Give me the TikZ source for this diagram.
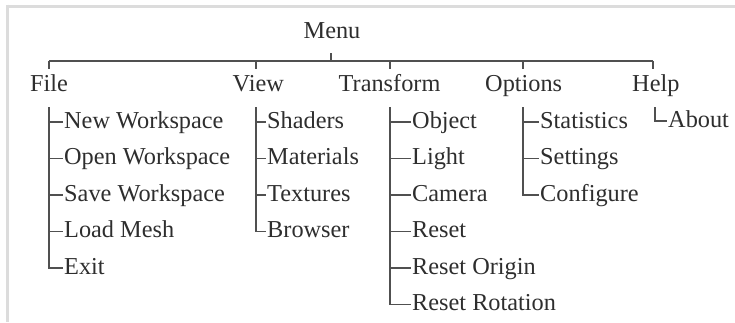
\documentclass[tikz,border=0pt]{standalone}
\usepackage{fontspec}
\setmainfont{Liberation Serif}
\definecolor{txt}{HTML}{2E2E2E}
\definecolor{ln}{HTML}{505050}
\definecolor{frame}{HTML}{DCDCDC}
\tikzset{
  lbl/.style={anchor=base west, inner sep=0pt, text=txt, font=\fontsize{24.3}{26}\selectfont},
  tree/.style={draw=ln, line width=1.8pt},
  frameline/.style={draw=frame, line width=3pt}
}
\begin{document}
\begin{tikzpicture}[x=1pt,y=-1pt]
\useasboundingbox (0,0) rectangle (735,322);
% frame
\draw[frameline] (6,6) -- (735,6);
\draw[frameline] (7.5,4.5) -- (7.5,322);
% top level
\node[lbl] (menu) at (303.5,38) {Menu};
\node[lbl] (file) at (30,91) {File};
\node[lbl] (view) at (232.5,91) {View};
\node[lbl] (transform) at (338.5,91) {Transform};
\node[lbl] (options) at (485,91) {Options};
\node[lbl] (help) at (632,91) {Help};
% children
\node[lbl] (f1) at (64,128) {New Workspace};
\node[lbl] (f2) at (64,164.5) {Open Workspace};
\node[lbl] (f3) at (64,201) {Save Workspace};
\node[lbl] (f4) at (64,237.5) {Load Mesh};
\node[lbl] (f5) at (64,274) {Exit};
\node[lbl] (v1) at (267,128) {Shaders};
\node[lbl] (v2) at (267,164.5) {Materials};
\node[lbl] (v3) at (267,201) {Textures};
\node[lbl] (v4) at (267,237.5) {Browser};
\node[lbl] (t1) at (412,128) {Object};
\node[lbl] (t2) at (412,164.5) {Light};
\node[lbl] (t3) at (412,201) {Camera};
\node[lbl] (t4) at (412,237.5) {Reset};
\node[lbl] (t5) at (412,274) {Reset Origin};
\node[lbl] (t6) at (412,310.5) {Reset Rotation};
\node[lbl] (o1) at (540,128) {Statistics};
\node[lbl] (o2) at (540,164.5) {Settings};
\node[lbl] (o3) at (540,201) {Configure};
\node[lbl] (h1) at (668,127) {About};
% junction coordinates
\coordinate (mt) at (331,53);
\coordinate (mb) at (331,61);
\coordinate (bfile) at (49,61);
\coordinate (bview) at (256,61);
\coordinate (btrans) at (390,61);
\coordinate (bopt) at (523,61);
\coordinate (bhelp) at (653,61);
\coordinate (ffile) at (49,107);
\coordinate (fview) at (256,107);
\coordinate (ftrans) at (390,107);
\coordinate (fopt) at (523,107);
\coordinate (fhelp) at (655,107);
% top connectors
\draw[tree] (mt) -- (mb);
\draw[tree] (bfile) -- (bhelp);
\foreach \b in {bfile,bview,btrans,bopt,bhelp}{
  \draw[tree] (\b) -- ++(0,8);
}
% branches
\foreach \c in {f1,f2,f3,f4,f5}{
  \draw[tree] (ffile) |- ([xshift=-1pt,yshift=6pt]\c.base west);
}
\foreach \c in {v1,v2,v3,v4}{
  \draw[tree] (fview) |- ([xshift=-1pt,yshift=6pt]\c.base west);
}
\foreach \c in {t1,t2,t3,t4,t5,t6}{
  \draw[tree] (ftrans) |- ([xshift=-1pt,yshift=6pt]\c.base west);
}
\foreach \c in {o1,o2,o3}{
  \draw[tree] (fopt) |- ([xshift=-1pt,yshift=6pt]\c.base west);
}
\draw[tree, line width=1.2pt] (fhelp) |- ([xshift=-1pt,yshift=6pt]h1.base west);
\end{tikzpicture}
\end{document}
